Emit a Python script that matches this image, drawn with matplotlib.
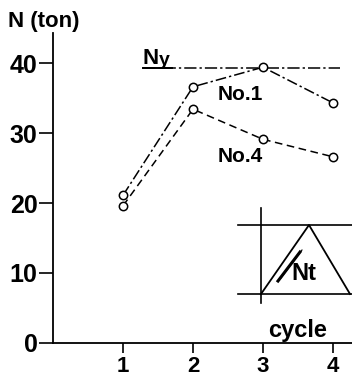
import matplotlib
matplotlib.use("Agg")
import matplotlib.pyplot as plt

cycles = [1, 2, 3, 4]
no1 = [21.1, 36.6, 39.4, 34.3]
no4 = [19.6, 33.4, 29.1, 26.6]
ny = 39.3
yticks = [0, 10, 20, 30, 40]
xticks = [1, 2, 3, 4]

plt.rcParams['font.family'] = ['Liberation Sans', 'DejaVu Sans']
plt.rcParams['font.weight'] = 'bold'

W, H = 352, 378
fig = plt.figure(figsize=(W/100, H/100), dpi=100)
ax = fig.add_axes([53/W, 35/H, (W-53)/W, 343/H])
ax.set_xlim(0, 299/70)
ax.set_ylim(0, 49)
for s in ['top', 'right']:
    ax.spines[s].set_visible(False)
ax.spines['left'].set_linewidth(1.3)
ax.spines['bottom'].set_linewidth(1.3)
ax.spines['left'].set_bounds(0, 44.3)

ax.set_yticks(yticks)
ax.set_yticklabels([str(v) for v in yticks], fontsize=18, fontweight='bold')
ax.set_xticks(xticks)
ax.set_xticklabels([str(v) for v in xticks], fontsize=16, fontweight='bold')
ax.tick_params(axis='y', direction='out', length=10, width=1.2, pad=1)
ax.tick_params(axis='x', direction='out', length=7, width=1.2, pad=2)

# Ny line
x0 = (143-53)/70
ax.plot([x0, (340-53)/70], [ny, ny], color='black', lw=1.1, ls=(0, (8, 2, 1.5, 2)))
ax.plot([x0, (172-53)/70], [ny, ny], color='black', lw=1.4)
ax.text(x0, (343-64)/7, 'N', fontsize=16, fontweight='bold', ha='left', va='baseline')
ax.text((159-53)/70, (343-64.5)/7, 'y', fontsize=14, fontweight='bold', ha='left', va='baseline')

ax.plot(cycles, no1, color='black', lw=1.1, ls=(0, (7, 2, 1.5, 2)),
        marker='o', ms=6, mfc='white', mec='black', mew=1.1)
ax.plot(cycles, no4, color='black', lw=1.1, ls=(0, (5, 3)),
        marker='o', ms=6, mfc='white', mec='black', mew=1.1)

ax.text((218-53)/70, (343-94)/7, 'No.1', fontsize=15, fontweight='bold', va='center', ha='left')
ax.text((218-53)/70, (343-156)/7, 'No.4', fontsize=15, fontweight='bold', va='center', ha='left')

fig.text(8/W, 1 - 22/H, 'N (ton)', fontsize=16, fontweight='bold', va='center', ha='left')

# inset schematic
ins = fig.add_axes([236/W, 1 - 305/H, (W-236)/W, (305-205)/H])
ins.set_xlim(236, 352)
ins.set_ylim(305, 205)
ins.axis('off')
ins.plot([261, 261], [208, 303], color='black', lw=1.2)
ins.plot([238, 352], [225, 225], color='black', lw=1.2)
ins.plot([238, 352], [294, 294], color='black', lw=1.2)
ins.plot([261, 309, 350], [294, 225, 294], color='black', lw=1.3)
ins.plot([278, 300], [281, 252], color='black', lw=2.2)
ins.plot([281, 302], [278, 250], color='black', lw=0.8)
ins.text(291, 274, 'Nt', fontsize=17, fontweight='bold', va='center', ha='left')
fig.text(298/W, 1 - 330/H, 'cycle', fontsize=17, fontweight='bold', va='center', ha='center')

fig.savefig('out.png', dpi=100)
